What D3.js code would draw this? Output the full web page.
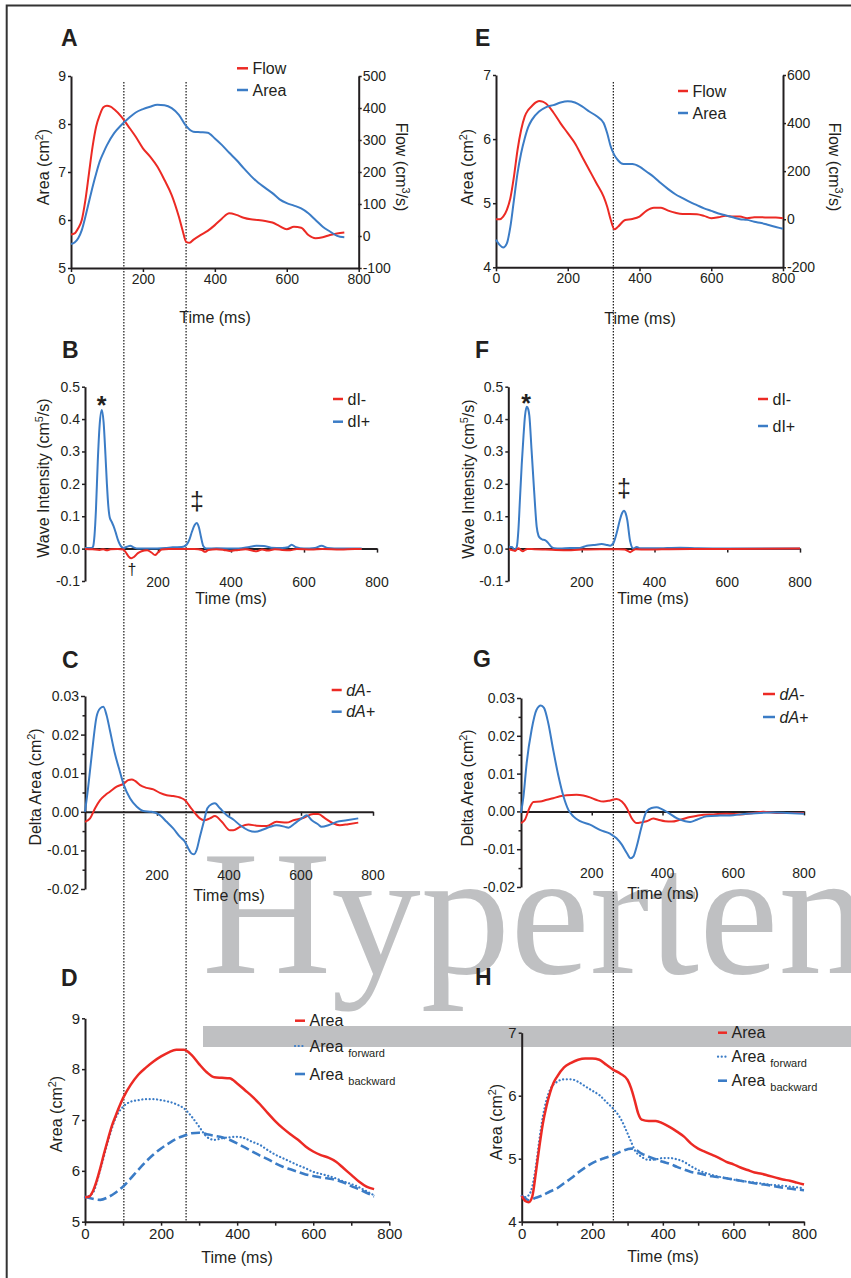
<!DOCTYPE html>
<html><head><meta charset="utf-8">
<script src="https://cdn.jsdelivr.net/npm/d3@7"></script>
<style>body{margin:0;background:#fff;}</style>
</head><body>
<script>
// ---------------- DATA ----------------
const xTicks = [0,200,400,600,800];
const xTicksNoZero = [200,400,600,800];
const xTicksMinor = [0,100,200,300,400,500,600,700,800];
const areaTicksA = [5,6,7,8,9];
const flowTicksA = [-100,0,100,200,300,400,500];
const areaTicksE = [4,5,6,7];
const flowTicksE = [-200,0,200,400,600];
const wiTicks = [-0.1,0,0.1,0.2,0.3,0.4,0.5];
const daTicks = [-0.02,-0.015,-0.01,-0.005,0,0.005,0.01,0.015,0.02,0.025,0.03];
const areaTicksD = [5,6,7,8,9];
const areaTicksH = [4,5,6,7];

// vertical marker times (left: panel A time scale, right: panel E time scale)
const markerTimesLeft = [147, 320];
const markerTimesRight = [327];

// Panel A
const flowA = [[0,5],[10,8],[20,24],[30,50],[40,112],[50,196],[60,279],[70,342],[80,378],[90,402],[100,407],[110,404],[120,396],[140,373],[160,342],[180,310],[200,274],[220,248],[240,217],[260,175],[280,128],[300,60],[310,19],[320,-18],[330,-21],[340,-12],[360,3],[380,16],[400,34],[420,55],[440,71],[460,66],[480,57],[500,52],[520,50],[540,47],[560,42],[580,31],[600,21],[620,29],[640,26],[660,3],[680,-7],[700,-4],[720,3],[740,8],[760,11]];
const areaA = [[0,5.5],[10,5.53],[20,5.62],[30,5.79],[40,6.07],[50,6.38],[60,6.69],[70,6.97],[80,7.22],[90,7.40],[100,7.56],[120,7.81],[140,7.98],[160,8.12],[180,8.24],[200,8.31],[220,8.36],[240,8.40],[260,8.39],[280,8.33],[300,8.19],[320,7.96],[340,7.84],[360,7.83],[380,7.82],[400,7.70],[420,7.56],[440,7.40],[460,7.25],[480,7.08],[500,6.92],[520,6.78],[540,6.67],[560,6.56],[580,6.43],[600,6.35],[620,6.30],[640,6.24],[660,6.14],[680,6.0],[700,5.86],[720,5.76],[740,5.67],[760,5.64]];

// Panel E
const flowE = [[0,0],[10,0],[20,11],[30,38],[40,87],[50,177],[60,288],[70,371],[80,427],[90,455],[100,471],[110,485],[120,492],[130,489],[140,480],[160,444],[180,399],[200,358],[220,316],[240,260],[260,205],[280,150],[300,94],[310,52],[320,-3],[330,-42],[340,-31],[360,-3],[380,1],[400,11],[420,36],[440,48],[460,48],[480,36],[500,27],[520,22],[540,22],[560,21],[580,14],[600,4],[620,8],[640,14],[660,11],[680,11],[700,4],[720,8],[740,8],[760,7],[780,7],[800,4]];
const areaE = [[0,4.43],[10,4.35],[20,4.31],[30,4.37],[40,4.63],[50,5.05],[60,5.47],[70,5.78],[80,6.01],[90,6.19],[100,6.30],[120,6.43],[140,6.50],[160,6.53],[180,6.57],[200,6.59],[220,6.57],[240,6.51],[260,6.43],[280,6.36],[300,6.25],[310,6.09],[320,5.88],[330,5.75],[340,5.67],[350,5.62],[360,5.61],[380,5.61],[400,5.57],[420,5.49],[440,5.41],[460,5.31],[480,5.22],[500,5.14],[520,5.08],[540,5.02],[560,4.97],[580,4.92],[600,4.88],[620,4.84],[640,4.81],[660,4.78],[680,4.75],[700,4.74],[720,4.71],[740,4.69],[760,4.66],[780,4.63],[800,4.60]];

// Panel B
const dIplusB = [[0,0.002],[10,0.002],[18,0.002],[22,0.006],[26,0.04],[30,0.12],[35,0.27],[40,0.38],[46,0.428],[51,0.39],[56,0.29],[60,0.2],[64,0.13],[68,0.095],[73,0.083],[78,0.07],[84,0.05],[90,0.028],[96,0.012],[105,0.002],[115,0.006],[124,0.009],[133,0.004],[145,0],[180,0],[220,0.002],[240,0.004],[265,0.005],[272,0.007],[279,0.013],[286,0.028],[293,0.052],[300,0.072],[306,0.079],[312,0.066],[318,0.035],[324,0.008],[332,0],[360,0.001],[420,0],[450,0.005],[470,0.009],[490,0.008],[510,0.003],[540,0.002],[556,0.004],[566,0.012],[578,0.004],[600,0],[630,0.002],[648,0.009],[665,0.002],[700,0],[758,0]];
const dIminusB = [[0,-0.001],[20,-0.002],[40,-0.004],[50,-0.002],[60,-0.005],[70,-0.002],[90,-0.001],[105,-0.003],[112,-0.012],[120,-0.025],[127,-0.03],[135,-0.025],[145,-0.014],[155,-0.008],[170,-0.005],[182,-0.012],[192,-0.02],[200,-0.012],[210,-0.003],[230,-0.001],[260,-0.001],[300,-0.001],[320,-0.004],[329,-0.01],[338,-0.004],[360,-0.002],[380,-0.004],[397,-0.007],[420,-0.004],[440,-0.002],[470,-0.008],[485,-0.003],[500,-0.006],[520,-0.002],[540,-0.004],[562,-0.005],[580,-0.001],[620,-0.003],[650,-0.001],[700,-0.003],[740,-0.001],[758,-0.001]];

// Panel F
const dIplusF = [[0,0.006],[8,0.005],[15,-0.003],[21,0.004],[26,0.06],[30,0.15],[35,0.26],[40,0.35],[44,0.41],[49,0.438],[53,0.43],[56,0.41],[62,0.305],[69,0.18],[76,0.069],[81,0.04],[85,0.033],[92,0.028],[99,0.026],[104,0.022],[108,0.017],[117,0.005],[125,0.001],[140,0],[168,0.002],[195,0.002],[214,0.009],[232,0.011],[255,0.014],[270,0.011],[278,0.009],[287,0.017],[296,0.048],[305,0.089],[311,0.11],[316,0.117],[321,0.108],[325,0.089],[333,0.023],[342,0],[351,0.005],[360,0.001],[400,0.001],[470,0.003],[520,0.001],[600,0],[700,0],[800,0]];
const dIminusF = [[0,-0.003],[8,-0.004],[17,-0.007],[22,-0.002],[26,0.001],[32,-0.004],[38,-0.008],[44,-0.004],[50,-0.001],[70,-0.002],[100,-0.003],[150,-0.005],[200,-0.003],[250,-0.002],[300,-0.002],[318,-0.003],[325,-0.006],[333,-0.011],[340,-0.006],[348,-0.002],[380,-0.003],[420,-0.002],[500,-0.001],[600,-0.001],[800,0]];

// Panel C
const dAplusC = [[0,0],[9,0.0065],[19,0.015],[32,0.0246],[42,0.0268],[51,0.0272],[60,0.025],[69,0.0212],[83,0.0151],[97,0.0104],[108,0.0069],[125,0.0035],[144,0.0013],[162,0.0002],[185,0],[204,-0.0006],[227,-0.0026],[245,-0.0043],[264,-0.0065],[278,-0.0078],[287,-0.0095],[296,-0.0108],[303,-0.011],[310,-0.0099],[319,-0.0065],[331,-0.0022],[340,0.0009],[352,0.002],[361,0.0022],[375,0.0009],[394,-0.0009],[412,-0.002],[431,-0.0035],[454,-0.0048],[472,-0.0052],[495,-0.0046],[514,-0.0039],[532,-0.0035],[556,-0.0039],[565,-0.0041],[583,-0.003],[602,-0.0017],[616,-0.0009],[630,-0.0022],[648,-0.0033],[657,-0.0039],[676,-0.0035],[699,-0.0026],[727,-0.0022],[759,-0.0017]];
const dAminusC = [[0,-0.0026],[14,-0.0017],[28,0.0009],[42,0.003],[56,0.0043],[69,0.0052],[88,0.0065],[108,0.0073],[120,0.0082],[130,0.0084],[139,0.008],[153,0.0069],[171,0.0062],[190,0.0058],[208,0.0049],[227,0.0043],[245,0.0041],[264,0.0037],[278,0.003],[292,0.0013],[306,-0.0004],[319,-0.0017],[331,-0.0022],[347,-0.0017],[361,-0.0011],[380,-0.0026],[403,-0.0048],[412,-0.0048],[431,-0.0039],[454,-0.0033],[477,-0.0036],[505,-0.0037],[532,-0.0026],[560,-0.0028],[579,-0.0022],[606,-0.0016],[634,-0.0006],[648,-0.0006],[667,-0.0017],[690,-0.003],[708,-0.0035],[731,-0.0032],[759,-0.0028]];

// Panel G
const dAplusG = [[0,-0.0004],[7,0.004],[16,0.0128],[30,0.0216],[44,0.0269],[56,0.028],[65,0.0274],[77,0.0234],[91,0.0163],[106,0.0093],[120,0.004],[134,0.0004],[148,-0.0013],[167,-0.0026],[195,-0.0035],[223,-0.0049],[252,-0.0059],[270,-0.0071],[285,-0.0088],[299,-0.011],[310,-0.0124],[318,-0.0119],[327,-0.0093],[341,-0.004],[355,0],[369,0.0009],[383,0.0011],[398,0.0006],[417,-0.0004],[440,-0.0018],[464,-0.0026],[478,-0.0028],[497,-0.0022],[525,-0.0013],[563,-0.0011],[600,-0.001],[638,-0.0006],[676,-0.0004],[713,-0.0003],[751,-0.0004],[800,-0.0006]];
const dAminusG = [[0,-0.0031],[11,-0.0022],[24,0.0009],[35,0.0025],[54,0.0026],[73,0.0031],[91,0.0035],[110,0.004],[129,0.0043],[157,0.0044],[176,0.0042],[195,0.0037],[214,0.003],[233,0.0026],[252,0.0029],[270,0.0033],[285,0.0026],[299,0.0009],[313,-0.0018],[327,-0.0031],[341,-0.0029],[355,-0.0026],[374,-0.0019],[388,-0.0022],[407,-0.0026],[426,-0.0027],[450,-0.0022],[478,-0.0015],[506,-0.001],[544,-0.0008],[581,-0.0006],[619,-0.0008],[657,-0.0004],[685,-0.0001],[723,-0.0004],[760,-0.0004],[800,-0.0004]];

// Panel D
const areaD = [[0,5.48],[10,5.49],[20,5.59],[30,5.79],[40,6.05],[50,6.34],[60,6.61],[70,6.87],[80,7.07],[90,7.26],[100,7.43],[120,7.69],[140,7.89],[160,8.03],[180,8.15],[200,8.25],[220,8.33],[240,8.38],[260,8.38],[280,8.28],[300,8.10],[320,7.94],[340,7.84],[360,7.83],[380,7.82],[400,7.72],[420,7.59],[440,7.46],[460,7.31],[480,7.14],[500,6.98],[520,6.84],[540,6.72],[560,6.61],[580,6.48],[600,6.38],[620,6.31],[640,6.26],[660,6.18],[680,6.05],[700,5.92],[720,5.79],[740,5.69],[760,5.64]];
const fwdD = [[0,5.48],[20,5.56],[40,6.02],[60,6.57],[80,7.03],[100,7.26],[120,7.36],[140,7.39],[160,7.41],[180,7.41],[200,7.39],[220,7.36],[240,7.31],[260,7.23],[280,7.07],[300,6.87],[320,6.67],[340,6.61],[360,6.64],[380,6.66],[400,6.67],[420,6.64],[440,6.57],[460,6.51],[480,6.41],[500,6.32],[520,6.25],[540,6.18],[560,6.11],[580,6.05],[600,5.98],[620,5.94],[640,5.90],[660,5.85],[680,5.79],[700,5.74],[720,5.68],[740,5.60],[760,5.52]];
const bwdD = [[0,5.49],[20,5.45],[40,5.43],[60,5.48],[80,5.57],[100,5.69],[120,5.85],[140,6.02],[160,6.18],[180,6.32],[200,6.44],[220,6.54],[240,6.63],[260,6.69],[280,6.74],[300,6.75],[320,6.72],[340,6.69],[360,6.66],[380,6.61],[400,6.54],[420,6.46],[440,6.38],[460,6.30],[480,6.23],[500,6.15],[520,6.08],[540,6.03],[560,5.98],[580,5.93],[600,5.90],[620,5.87],[640,5.85],[660,5.82],[680,5.77],[700,5.70],[720,5.64],[740,5.57],[760,5.50]];

// Panel H
const areaH = [[0,4.41],[10,4.33],[20,4.31],[30,4.40],[40,4.77],[50,5.19],[60,5.56],[70,5.83],[80,6.04],[90,6.20],[100,6.30],[120,6.45],[140,6.52],[160,6.57],[180,6.59],[200,6.59],[220,6.57],[240,6.49],[260,6.41],[280,6.35],[300,6.25],[310,6.12],[320,5.93],[330,5.72],[340,5.62],[360,5.60],[380,5.60],[400,5.56],[420,5.50],[440,5.43],[460,5.35],[480,5.24],[500,5.16],[520,5.11],[540,5.06],[560,5.01],[580,4.95],[600,4.91],[620,4.86],[640,4.82],[660,4.78],[680,4.76],[700,4.73],[720,4.70],[740,4.67],[760,4.65],[780,4.62],[800,4.59]];
const fwdH = [[0,4.41],[10,4.39],[20,4.42],[30,4.56],[40,4.87],[50,5.30],[60,5.67],[70,5.93],[80,6.09],[100,6.22],[120,6.26],[140,6.26],[160,6.22],[180,6.15],[200,6.08],[220,6.01],[240,5.90],[260,5.79],[280,5.64],[300,5.40],[310,5.27],[320,5.14],[340,5.03],[360,4.98],[380,4.99],[400,5.01],[420,5.01],[440,4.99],[460,4.95],[480,4.88],[500,4.82],[540,4.74],[580,4.69],[620,4.65],[660,4.62],[700,4.59],[740,4.57],[800,4.53]];
const bwdH = [[0,4.41],[10,4.37],[20,4.34],[40,4.38],[60,4.42],[80,4.48],[100,4.53],[120,4.61],[140,4.69],[160,4.78],[180,4.86],[200,4.93],[220,4.98],[240,5.02],[260,5.06],[280,5.11],[300,5.15],[310,5.16],[320,5.15],[340,5.08],[360,5.03],[380,4.99],[400,4.95],[420,4.92],[440,4.87],[460,4.83],[480,4.79],[500,4.77],[540,4.72],[580,4.69],[620,4.65],[660,4.61],[700,4.58],[740,4.54],[800,4.50]];

// ---------------- DRAWING ----------------
const FONT = "'Liberation Sans', Arial, Helvetica, sans-serif";
const INK = "#231f20";
const RED = "#ec2a24";
const BLUE = "#3b7cc6";
const GREY = "#bfc0c2";

const svg = d3.select("body").append("svg").attr("width",851).attr("height",1278);

// watermark (behind)
svg.append("text").attr("x",202).attr("y",973)
  .style("font-family","'Liberation Serif','Times New Roman',serif").style("font-size","179px")
  .style("fill",GREY).text("Hypertension");
svg.append("rect").attr("x",203).attr("y",1026).attr("width",648).attr("height",21).style("fill",GREY);

// frame
svg.append("path").attr("d","M6.7,1278V5.6H851").attr("fill","none").attr("stroke","#333").attr("stroke-width",2);

function styleAxis(a, fs) {
  a.attr("font-family",null).attr("font-size",null);
  a.select(".domain").attr("stroke",INK).attr("stroke-width",2);
  a.selectAll(".tick line").attr("stroke",INK).attr("stroke-width",1.5);
  a.selectAll(".tick text").style("fill",INK).style("font-family",FONT).style("font-size",fs+"px");
  return a;
}
function addAxis(gen, tx, ty, fs) {
  return styleAxis(svg.append("g").attr("transform",`translate(${tx},${ty})`).call(gen), fs);
}
function txt(x, y, s, fs, opts={}) {
  const t = svg.append("text").attr("x",x).attr("y",y)
    .attr("text-anchor",opts.anchor||"start").attr("dy",opts.dy||"0.35em")
    .style("font-family",FONT).style("font-size",fs+"px").style("fill",INK);
  if (opts.bold) t.style("font-weight","bold");
  if (opts.italic) t.style("font-style","italic");
  t.text(s);
  return t;
}
function title(x, y, rot, main, sup, tail, fs=16) {
  const t = svg.append("text").attr("transform",`translate(${x},${y}) rotate(${rot})`)
    .attr("text-anchor","middle").attr("dy","0.35em")
    .style("font-family",FONT).style("font-size",fs+"px").style("fill",INK);
  t.append("tspan").text(main);
  if (sup) {
    t.append("tspan").attr("baseline-shift","super").style("font-size",(fs*0.68)+"px").text(sup);
    t.append("tspan").text(tail);
  }
}
function series(x, y, data, color, opts={}) {
  svg.append("path").datum(data)
    .attr("d", d3.line().x(d=>x(d[0])).y(d=>y(d[1])).curve(d3.curveMonotoneX))
    .attr("fill","none").attr("stroke",color).attr("stroke-width",opts.w||2)
    .attr("stroke-dasharray",opts.dash||null).attr("stroke-linecap",opts.cap||"butt")
    .attr("stroke-linejoin","round");
}
function legendItem(x1, x2, y, color, label, fs, opts={}) {
  svg.append("line").attr("x1",x1).attr("x2",x2).attr("y1",y).attr("y2",y)
    .attr("stroke",color).attr("stroke-width",opts.w||2.5)
    .attr("stroke-dasharray",opts.dash||null).attr("stroke-linecap",opts.cap||"butt");
  const t = txt(x2+4.5, y, "", fs, {italic:opts.italic});
  t.append("tspan").text(label);
  if (opts.sub) t.append("tspan").attr("dx",5).attr("dy",5).style("font-size","11px").text(opts.sub);
}
function letter(x, y, s) { txt(x, y, s, 23, {bold:true, dy:"0"}); }

const fmtInt = d => String(d);

// ---- Panel A ----
const xA = d3.scaleLinear().domain([0,800]).range([71,358.7]);
const yA = d3.scaleLinear().domain([5,9]).range([268,76]);
const yA2 = d3.scaleLinear().domain([-100,500]).range([268,76]);
// ---- Panel E ----
const xE = d3.scaleLinear().domain([0,800]).range([496,783]);
const yE = d3.scaleLinear().domain([4,7]).range([267.3,75]);
const yE2 = d3.scaleLinear().domain([-200,600]).range([267.3,75]);
// ---- Panel B/F ----
const xB = d3.scaleLinear().domain([0,800]).range([85,377]);
const yB = d3.scaleLinear().domain([-0.1,0.5]).range([581,386.7]);
const xF = d3.scaleLinear().domain([0,800]).range([509,800]);
const yF = d3.scaleLinear().domain([-0.1,0.5]).range([581,386.7]);
// ---- Panel C/G ----
const xC = d3.scaleLinear().domain([0,800]).range([85,373]);
const yC = d3.scaleLinear().domain([-0.02,0.03]).range([889,696]);
const xG = d3.scaleLinear().domain([0,800]).range([521,804]);
const yG = d3.scaleLinear().domain([-0.02,0.03]).range([887,698]);
// ---- Panel D/H ----
const xD = d3.scaleLinear().domain([0,800]).range([85,389.3]);
const yD = d3.scaleLinear().domain([5,9]).range([1221.7,1018.3]);
const xH = d3.scaleLinear().domain([0,800]).range([521.7,804]);
const yH = d3.scaleLinear().domain([4,7]).range([1221.7,1032.7]);

// vertical dotted markers
markerTimesLeft.forEach(t => {
  svg.append("line").attr("x1",xA(t)).attr("x2",xA(t)).attr("y1",82).attr("y2",1221)
    .attr("stroke","#000").attr("stroke-width",1.1).attr("stroke-dasharray","1.5,1.5");
});
markerTimesRight.forEach(t => {
  svg.append("line").attr("x1",xE(t)).attr("x2",xE(t)).attr("y1",82).attr("y2",1221)
    .attr("stroke","#000").attr("stroke-width",1.1).attr("stroke-dasharray","1.5,1.5");
});

// ===== Panel A =====
letter(61,46,"A");
addAxis(d3.axisBottom(xA).tickValues(xTicks).tickSize(4).tickPadding(2).tickSizeOuter(0), 0, 268, 14);
addAxis(d3.axisLeft(yA).tickValues(areaTicksA).tickSize(3).tickPadding(2).tickSizeOuter(0).tickFormat(fmtInt), 71, 0, 14);
addAxis(d3.axisRight(yA2).tickValues(flowTicksA).tickSize(3).tickPadding(1).tickSizeOuter(0).tickFormat(fmtInt), 358.7, 0, 14);
series(xA, yA2, flowA, RED);
series(xA, yA, areaA, BLUE);
title(215,317,0,"Time (ms)");
title(43,167,-90,"Area (cm","2",")");
title(402,167,90,"Flow (cm","3","/s)");
legendItem(237,248,68.3,RED,"Flow",16);
legendItem(237,248,90,BLUE,"Area",16);

// ===== Panel E =====
letter(475,46,"E");
addAxis(d3.axisBottom(xE).tickValues(xTicks).tickSize(4).tickPadding(2).tickSizeOuter(0), 0, 267.3, 14);
addAxis(d3.axisLeft(yE).tickValues(areaTicksE).tickSize(3).tickPadding(2).tickSizeOuter(0).tickFormat(fmtInt), 496, 0, 14);
addAxis(d3.axisRight(yE2).tickValues(flowTicksE).tickSize(3).tickPadding(1).tickSizeOuter(0).tickFormat(fmtInt), 783, 0, 14);
series(xE, yE2, flowE, RED);
series(xE, yE, areaE, BLUE);
title(640,318,0,"Time (ms)");
title(467,167,-90,"Area (cm","2",")");
title(835,167,90,"Flow (cm","3","/s)");
legendItem(678,688,91,RED,"Flow",16);
legendItem(678,688,113,BLUE,"Area",16);

// ===== Panel B =====
letter(62,358,"B");
addAxis(d3.axisLeft(yB).tickValues(wiTicks).tickSize(3).tickPadding(2).tickSizeOuter(0).tickFormat(d=>d.toFixed(1)), 85, 0, 14);
addAxis(d3.axisBottom(xB).tickValues(xTicksNoZero).tickSize(4).tickSizeOuter(0).tickFormat(""), 0, yB(0), 14);
xTicksNoZero.forEach(t => txt(xB(t), 582, t, 14, {anchor:"middle"}));
series(xB, yB, dIplusB, BLUE);
series(xB, yB, dIminusB, RED);
title(231,598,0,"Time (ms)");
title(43,478,-90,"Wave Intensity (cm","5","/s)");
legendItem(333,343,399,RED,"dI-",16);
legendItem(333,343,421.7,BLUE,"dI+",16);
txt(101.7,414,"*",25,{anchor:"middle",bold:true,dy:"0"});
txt(197,510,"‡",25,{anchor:"middle",dy:"0"});
txt(132,575,"†",16,{anchor:"middle",dy:"0"});

// ===== Panel F =====
letter(475,358,"F");
addAxis(d3.axisLeft(yF).tickValues(wiTicks).tickSize(3).tickPadding(2).tickSizeOuter(0).tickFormat(d=>d.toFixed(1)), 508.3, 0, 14);
addAxis(d3.axisBottom(xF).tickValues(xTicksNoZero).tickSize(4).tickSizeOuter(0).tickFormat(""), 0, yF(0), 14);
xTicksNoZero.forEach(t => txt(xF(t), 582, t, 14, {anchor:"middle"}));
series(xF, yF, dIplusF, BLUE);
series(xF, yF, dIminusF, RED);
title(653,598,0,"Time (ms)");
title(468,479,-90,"Wave Intensity (cm","5","/s)");
legendItem(758,768,399,RED,"dI-",16);
legendItem(758,768,426,BLUE,"dI+",16);
txt(526,412,"*",25,{anchor:"middle",bold:true,dy:"0"});
txt(624,497,"‡",25,{anchor:"middle",dy:"0"});

// ===== Panel C =====
const daFmt = d => (Math.abs(Math.round(d*1000)) % 10 === 0) ? d.toFixed(2) : "";
letter(62,668,"C");
const axC = addAxis(d3.axisLeft(yC).tickValues(daTicks).tickSize(4).tickPadding(2).tickSizeOuter(0).tickFormat(daFmt), 85, 0, 14);
axC.selectAll(".tick").filter(d => daFmt(d)==="").select("line").attr("x2",-2.5);
addAxis(d3.axisBottom(xC).tickValues(xTicksNoZero).tickSize(4).tickSizeOuter(0).tickFormat(""), 0, yC(0), 14);
xTicksNoZero.forEach(t => txt(xC(t), 875, t, 14, {anchor:"middle"}));
series(xC, yC, dAminusC, RED);
series(xC, yC, dAplusC, BLUE);
title(229,895,0,"Time (ms)");
title(35,787,-90,"Delta Area (cm","2",")");
legendItem(331.7,341.7,690,RED,"dA-",16,{italic:true});
legendItem(331.7,341.7,711.7,BLUE,"dA+",16,{italic:true});

// ===== Panel G =====
letter(473,667,"G");
const axG = addAxis(d3.axisLeft(yG).tickValues(daTicks).tickSize(4).tickPadding(2).tickSizeOuter(0).tickFormat(daFmt), 521, 0, 14);
axG.selectAll(".tick").filter(d => daFmt(d)==="").select("line").attr("x2",-2.5);
addAxis(d3.axisBottom(xG).tickValues(xTicksNoZero).tickSize(4).tickSizeOuter(0).tickFormat(""), 0, yG(0), 14);
xTicksNoZero.forEach(t => txt(xG(t), 873, t, 14, {anchor:"middle"}));
series(xG, yG, dAminusG, RED);
series(xG, yG, dAplusG, BLUE);
title(663,893,0,"Time (ms)");
title(467.5,788,-90,"Delta Area (cm","2",")");
legendItem(763,775,694,RED,"dA-",16,{italic:true});
legendItem(763,775,717,BLUE,"dA+",16,{italic:true});

// ===== Panel D =====
const minorFmt = d => d % 200 === 0 ? String(d) : "";
letter(61,986,"D");
addAxis(d3.axisLeft(yD).tickValues(areaTicksD).tickSize(3).tickPadding(2).tickSizeOuter(0).tickFormat(fmtInt), 85, 0, 15);
addAxis(d3.axisBottom(xD).tickValues(xTicksMinor).tickSize(4).tickPadding(3).tickSizeOuter(0).tickFormat(minorFmt), 0, 1221.7, 15);
series(xD, yD, fwdD, BLUE, {w:2.2, dash:"0.1,3.6", cap:"round"});
series(xD, yD, bwdD, BLUE, {w:2.6, dash:"9,4"});
series(xD, yD, areaD, RED, {w:2.5});
title(237,1257,0,"Time (ms)");
title(56,1114,-90,"Area (cm","2",")");
legendItem(295,305,1020.7,RED,"Area",16);
legendItem(295,305,1046,BLUE,"Area",16,{dash:"0.1,3.6",cap:"round",w:2.2,sub:"forward"});
legendItem(295,305,1074,BLUE,"Area",16,{w:2.6,sub:"backward"});

// ===== Panel H =====
letter(475,985,"H");
addAxis(d3.axisLeft(yH).tickValues(areaTicksH).tickSize(3).tickPadding(2).tickSizeOuter(0).tickFormat(fmtInt), 521.7, 0, 15);
addAxis(d3.axisBottom(xH).tickValues(xTicksMinor).tickSize(4).tickPadding(3).tickSizeOuter(0).tickFormat(minorFmt), 0, 1221.7, 15);
series(xH, yH, fwdH, BLUE, {w:2.2, dash:"0.1,3.6", cap:"round"});
series(xH, yH, bwdH, BLUE, {w:2.6, dash:"9,4"});
series(xH, yH, areaH, RED, {w:2.5});
title(663,1256,0,"Time (ms)");
title(496,1122,-90,"Area (cm","2",")");
legendItem(718,727,1032.7,RED,"Area",16);
legendItem(718,727,1056.7,BLUE,"Area",16,{dash:"0.1,3.6",cap:"round",w:2.2,sub:"forward"});
legendItem(718,727,1080.7,BLUE,"Area",16,{w:2.6,sub:"backward"});
</script>
</body></html>
